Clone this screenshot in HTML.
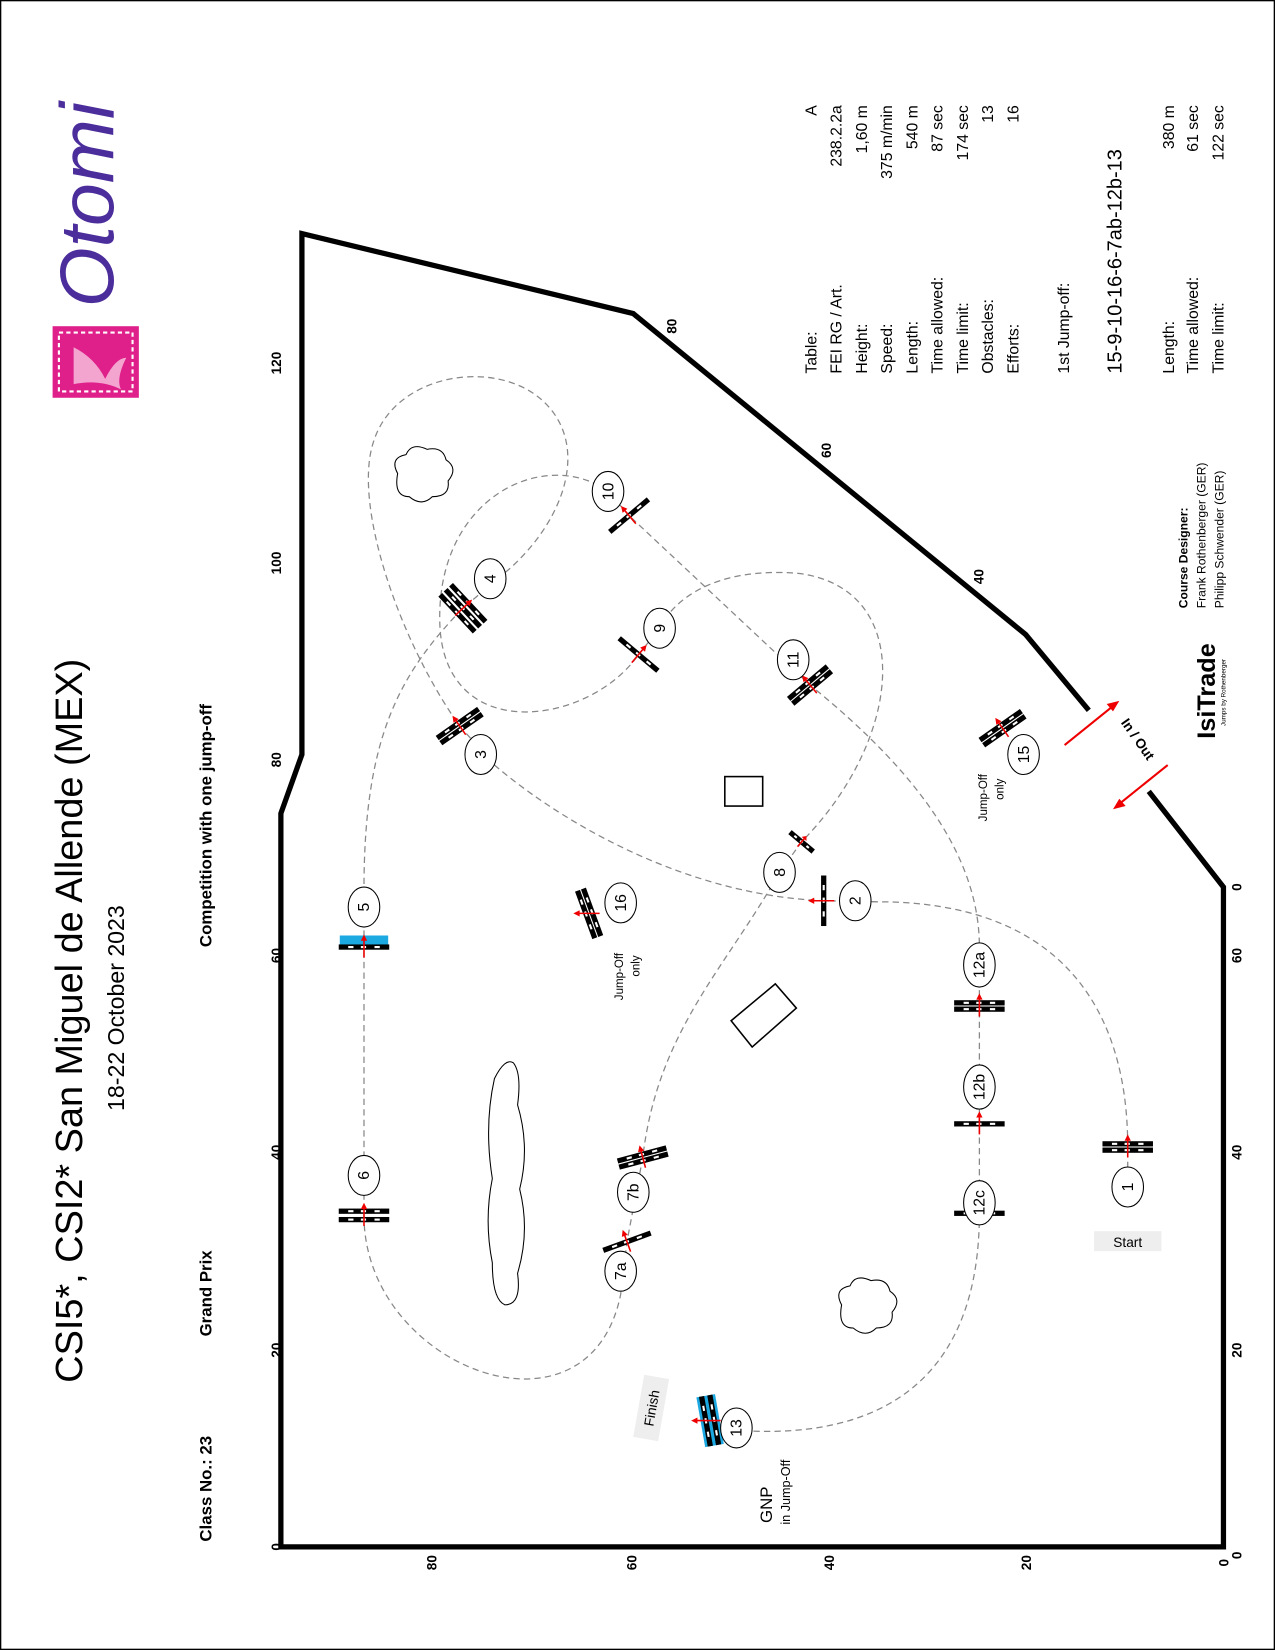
<!DOCTYPE html>
<html><head><meta charset="utf-8"><style>
html,body{margin:0;padding:0;background:#fff}
svg{display:block}
text{font-family:"Liberation Sans",sans-serif}
</style></head><body>
<svg width="1275" height="1650" viewBox="0 0 1212 1568" preserveAspectRatio="none" xmlns="http://www.w3.org/2000/svg">
<defs>
<g id="bar"><rect x="-24" y="-2.5" width="48" height="5" fill="#000"/><rect x="-15" y="-1" width="5" height="2" fill="#fff"/><rect x="-3" y="-1" width="5" height="2" fill="#fff"/><rect x="10" y="-1" width="5" height="2" fill="#fff"/></g>
<g id="arr"><line x1="0" y1="-10" x2="0" y2="10" stroke="#e00" stroke-width="1.5"/><path d="M0,-12 l-3,6 h6z" fill="#e00"/></g>
</defs>
<rect x="0.5" y="0.5" width="1211" height="1567" fill="none" stroke="#000" stroke-width="1.5"/>

<polyline points="1035,675 975,603 602,298 287,222 287,717 267,773 267,1470 1163,1470 1163,843 1092,752" fill="none" stroke="#000" stroke-width="5" stroke-linejoin="miter"/>

<g font-weight="bold" font-size="13" text-anchor="middle">
<text transform="translate(267,345) rotate(-90)">120</text>
<text transform="translate(267,535) rotate(-90)">100</text>
<text transform="translate(267,722) rotate(-90)">80</text>
<text transform="translate(267,908) rotate(-90)">60</text>
<text transform="translate(267,1095) rotate(-90)">40</text>
<text transform="translate(267,1283) rotate(-90)">20</text>
<text transform="translate(267,1470) rotate(-90)">0</text>
<text transform="translate(1180,843) rotate(-90)">0</text>
<text transform="translate(1180,908) rotate(-90)">60</text>
<text transform="translate(1180,1095) rotate(-90)">40</text>
<text transform="translate(1180,1283) rotate(-90)">20</text>
<text transform="translate(1180,1478) rotate(-90)">0</text>
<text transform="translate(415,1485) rotate(-90)">80</text>
<text transform="translate(605,1485) rotate(-90)">60</text>
<text transform="translate(793,1485) rotate(-90)">40</text>
<text transform="translate(980,1485) rotate(-90)">20</text>
<text transform="translate(1168,1485) rotate(-90)">0</text>
<text transform="translate(643,310) rotate(-90)">80</text>
<text transform="translate(790,428) rotate(-90)">60</text>
<text transform="translate(935,548) rotate(-90)">40</text>
</g>

<text transform="translate(78,970) rotate(-90)" font-size="36" text-anchor="middle">CSI5*, CSI2* San Miguel de Allende (MEX)</text>
<text transform="translate(118,958) rotate(-90)" font-size="22" text-anchor="middle">18-22 October 2023</text>
<text transform="translate(201,1465) rotate(-90)" font-size="16" font-weight="bold">Class No.: 23</text>
<text transform="translate(201,1270) rotate(-90)" font-size="16" font-weight="bold">Grand Prix</text>
<text transform="translate(201,900) rotate(-90)" font-size="16" font-weight="bold">Competition with one jump-off</text>

<rect x="50" y="310" width="82" height="68" fill="#e0208a"/>
<rect x="56" y="316" width="70" height="56" fill="none" stroke="#fff" stroke-width="2" stroke-dasharray="4 3"/>
<path d="M70,330 q20,10 30,30 q10,-20 20,-20 q-10,20 -5,30 q-20,-10 -45,-5z" fill="#fff" opacity="0.6"/>
<text transform="translate(108,292) rotate(-90)" font-size="72" font-style="italic" font-family="Liberation Serif" fill="#4b2d9b" textLength="195" lengthAdjust="spacingAndGlyphs">Otomi</text>

<g font-size="15">
<g text-anchor="start">
<text transform="translate(776,355) rotate(-90)">Table:</text>
<text transform="translate(800,355) rotate(-90)">FEI RG / Art.</text>
<text transform="translate(824,355) rotate(-90)">Height:</text>
<text transform="translate(848,355) rotate(-90)">Speed:</text>
<text transform="translate(872,355) rotate(-90)">Length:</text>
<text transform="translate(896,355) rotate(-90)">Time allowed:</text>
<text transform="translate(920,355) rotate(-90)">Time limit:</text>
<text transform="translate(944,355) rotate(-90)">Obstacles:</text>
<text transform="translate(968,355) rotate(-90)">Efforts:</text>
<text transform="translate(1016,355) rotate(-90)">1st Jump-off:</text>
<text transform="translate(1066,355) rotate(-90)" font-size="19">15-9-10-16-6-7ab-12b-13</text>
<text transform="translate(1116,355) rotate(-90)">Length:</text>
<text transform="translate(1139,355) rotate(-90)">Time allowed:</text>
<text transform="translate(1163,355) rotate(-90)">Time limit:</text>
</g>
<g text-anchor="end">
<text transform="translate(776,100) rotate(-90)">A</text>
<text transform="translate(800,100) rotate(-90)">238.2.2a</text>
<text transform="translate(824,100) rotate(-90)">1,60  m</text>
<text transform="translate(848,100) rotate(-90)">375  m/min</text>
<text transform="translate(872,100) rotate(-90)">540    m</text>
<text transform="translate(896,100) rotate(-90)">87  sec</text>
<text transform="translate(920,100) rotate(-90)">174  sec</text>
<text transform="translate(944,100) rotate(-90)">13</text>
<text transform="translate(968,100) rotate(-90)">16</text>
<text transform="translate(1116,100) rotate(-90)">380    m</text>
<text transform="translate(1139,100) rotate(-90)">61  sec</text>
<text transform="translate(1163,100) rotate(-90)">122  sec</text>
</g>
</g>
<g font-size="11.5">
<text transform="translate(1129,578) rotate(-90)" font-weight="bold">Course Designer:</text>
<text transform="translate(1146,578) rotate(-90)">Frank Rothenberger (GER)</text>
<text transform="translate(1163,578) rotate(-90)">Philipp Schwender (GER)</text>
</g>
<text transform="translate(1155,702) rotate(-90)" font-size="24" font-weight="bold">IsiTrade</text>
<text transform="translate(1165,690) rotate(-90)" font-size="6">Jumps by Rothenberger</text>

<line x1="1012" y1="708" x2="1058" y2="671" stroke="#e00" stroke-width="2"/>
<path d="M1064,666 l-12,3 l6,7z" fill="#e00"/>
<line x1="1110" y1="727" x2="1064" y2="764" stroke="#e00" stroke-width="2"/>
<path d="M1058,769 l12,-3 l-6,-7z" fill="#e00"/>
<text transform="translate(1078,705) rotate(55)" font-size="13" font-weight="bold" text-anchor="middle">In / Out</text>

<g fill="none" stroke="#888" stroke-width="1.2" stroke-dasharray="6 4">
<path d="M1072,1110 L1072,1090 C1072,950 1000,857 835,857 L783,856 C640,850 520,770 470,727 L437,690 C380,610 335,480 355,420 C375,355 470,340 515,380 C560,420 540,490 485,540 L440,578 C380,640 346,700 346,845 L346,1155 C346,1300 560,1380 590,1230 L596,1180 L611,1100 C625,980 690,920 741,829 L762,800 C860,700 870,560 760,545 C680,538 640,570 627,597 L607,622 C560,690 420,710 418,590 C416,470 520,425 578,467 L598,490 L770,651 C880,740 931,820 931,900 L931,1153 C931,1300 850,1365 715,1360"/>
</g>

<rect x="689" y="738" width="36" height="28" fill="none" stroke="#000" stroke-width="1.5"/>
<polygon points="695,970 737,935 757,958 715,995" fill="none" stroke="#000" stroke-width="1.5"/>
<g fill="none" stroke="#000" stroke-width="1">
<path d="M378,450 q-8,-15 8,-18 q5,-12 20,-5 q15,-3 18,10 q12,8 2,20 q2,15 -15,15 q-10,10 -22,0 q-15,0 -11,-22z"/>
<path d="M800,1240 q-8,-15 8,-18 q5,-12 20,-5 q15,-3 18,10 q12,8 2,20 q2,15 -15,15 q-10,10 -22,0 q-15,0 -11,-22z"/>
<path d="M470,1025 q10,-20 18,-15 q8,10 4,40 q12,40 2,80 q10,40 -2,80 q4,30 -12,30 q-12,-5 -12,-40 q-8,-40 0,-80 q-8,-50 2,-95z"/>
</g>

<g>
<g transform="translate(1072,1090)"><use href="#bar" y="-3"/><use href="#bar" y="3"/><use href="#arr"/></g>
<g transform="translate(783,856) rotate(90)"><use href="#bar"/></g>
<g transform="translate(783,856)"><line x1="-12" y1="0" x2="10" y2="0" stroke="#e00" stroke-width="1.5"/><path d="M-15,0 l6,-3 v6z" fill="#e00"/></g>
<g transform="translate(437,690) rotate(-35)"><use href="#bar" y="-3"/><use href="#bar" y="3"/><use href="#arr"/></g>
<g transform="translate(440,578) rotate(47)"><use href="#bar" y="-7"/><use href="#bar" y="0"/><use href="#bar" y="7"/><use href="#arr"/></g>
<g transform="translate(346,900)"><rect x="-23" y="-11" width="46" height="9" fill="#1ca9e1"/><use href="#bar"/><use href="#arr"/></g>
<g transform="translate(346,1155)"><use href="#bar" y="-4"/><use href="#bar" y="4"/><use href="#arr"/></g>
<g transform="translate(596,1180) rotate(-20)"><use href="#bar"/><use href="#arr"/></g>
<g transform="translate(611,1100) rotate(-15)"><use href="#bar" y="-3"/><use href="#bar" y="3"/><use href="#arr"/></g>
<g transform="translate(762,800) rotate(40) scale(0.6,1)"><use href="#bar"/></g>
<g transform="translate(762,800) rotate(40)"><use href="#arr" transform="scale(1,0.6)"/></g>
<g transform="translate(607,622) rotate(40)"><use href="#bar"/><use href="#arr"/></g>
<g transform="translate(598,490) rotate(-40)"><use href="#bar"/><use href="#arr"/></g>
<g transform="translate(770,651) rotate(-40)"><use href="#bar" y="-3"/><use href="#bar" y="3"/><use href="#arr"/></g>
<g transform="translate(931,956)"><use href="#bar" y="-3"/><use href="#bar" y="3"/><use href="#arr"/></g>
<g transform="translate(931,1068)"><use href="#bar"/><use href="#arr"/></g>
<g transform="translate(931,1153)"><use href="#bar"/><use href="#arr"/></g>
<g transform="translate(675,1350) rotate(80)"><rect x="-24" y="-9" width="48" height="18" fill="#1ca9e1"/><use href="#bar" y="-4"/><use href="#bar" y="4"/></g>
<g transform="translate(675,1350)"><line x1="-15" y1="0" x2="10" y2="0" stroke="#e00" stroke-width="1.5"/><path d="M-18,0 l6,-3 v6z" fill="#e00"/></g>
<g transform="translate(953,692) rotate(-35)"><use href="#bar" y="-3"/><use href="#bar" y="3"/><use href="#arr"/></g>
<g transform="translate(560,868) rotate(70)"><use href="#bar" y="-3"/><use href="#bar" y="3"/></g>
<g transform="translate(560,868)"><line x1="-12" y1="0" x2="10" y2="0" stroke="#e00" stroke-width="1.5"/><path d="M-15,0 l6,-3 v6z" fill="#e00"/></g>
</g>

<g font-size="15" text-anchor="middle">
<g fill="#fff" stroke="#000" stroke-width="1">
<ellipse cx="1072" cy="1128" rx="15" ry="19"/><ellipse cx="813" cy="856" rx="15" ry="19"/>
<ellipse cx="457" cy="717" rx="15" ry="19"/><ellipse cx="466" cy="550" rx="15" ry="19"/>
<ellipse cx="346" cy="862" rx="15" ry="19"/><ellipse cx="346" cy="1117" rx="15" ry="19"/>
<ellipse cx="590" cy="1208" rx="15" ry="19"/><ellipse cx="602" cy="1133" rx="15" ry="19"/>
<ellipse cx="741" cy="829" rx="15" ry="19"/><ellipse cx="627" cy="597" rx="15" ry="19"/>
<ellipse cx="578" cy="467" rx="15" ry="19"/><ellipse cx="754" cy="627" rx="15" ry="19"/>
<ellipse cx="931" cy="917" rx="15" ry="21"/><ellipse cx="931" cy="1033" rx="15" ry="21"/>
<ellipse cx="931" cy="1143" rx="15" ry="21"/><ellipse cx="700" cy="1357" rx="15" ry="19"/>
<ellipse cx="973" cy="717" rx="15" ry="19"/><ellipse cx="590" cy="858" rx="15" ry="19"/>
</g>
<text transform="translate(1077,1128) rotate(-90)">1</text>
<text transform="translate(818,856) rotate(-90)">2</text>
<text transform="translate(462,717) rotate(-90)">3</text>
<text transform="translate(471,550) rotate(-90)">4</text>
<text transform="translate(351,862) rotate(-90)">5</text>
<text transform="translate(351,1117) rotate(-90)">6</text>
<text transform="translate(595,1208) rotate(-90)">7a</text>
<text transform="translate(607,1133) rotate(-90)">7b</text>
<text transform="translate(746,829) rotate(-90)">8</text>
<text transform="translate(632,597) rotate(-90)">9</text>
<text transform="translate(583,467) rotate(-90)">10</text>
<text transform="translate(759,627) rotate(-90)">11</text>
<text transform="translate(936,917) rotate(-90)">12a</text>
<text transform="translate(936,1033) rotate(-90)">12b</text>
<text transform="translate(936,1143) rotate(-90)">12c</text>
<text transform="translate(705,1357) rotate(-90)">13</text>
<text transform="translate(978,717) rotate(-90)">15</text>
<text transform="translate(595,858) rotate(-90)">16</text>
</g>

<rect x="1040" y="1170" width="64" height="19" fill="#eee"/>
<text x="1072" y="1185" font-size="13" text-anchor="middle">Start</text>
<g transform="translate(619,1338) rotate(-80)"><rect x="-30" y="-12" width="60" height="24" fill="#eee"/><text y="5" font-size="13" text-anchor="middle">Finish</text></g>
<g font-size="11" text-anchor="middle">
<text transform="translate(592,928) rotate(-90)">Jump-Off</text>
<text transform="translate(608,918) rotate(-90)">only</text>
<text transform="translate(938,758) rotate(-90)">Jump-Off</text>
<text transform="translate(954,750) rotate(-90)">only</text>
</g>
<text transform="translate(734,1430) rotate(-90)" font-size="16" text-anchor="middle">GNP</text>
<text transform="translate(751,1418) rotate(-90)" font-size="12" text-anchor="middle">in Jump-Off</text>
</svg>
</body></html>
